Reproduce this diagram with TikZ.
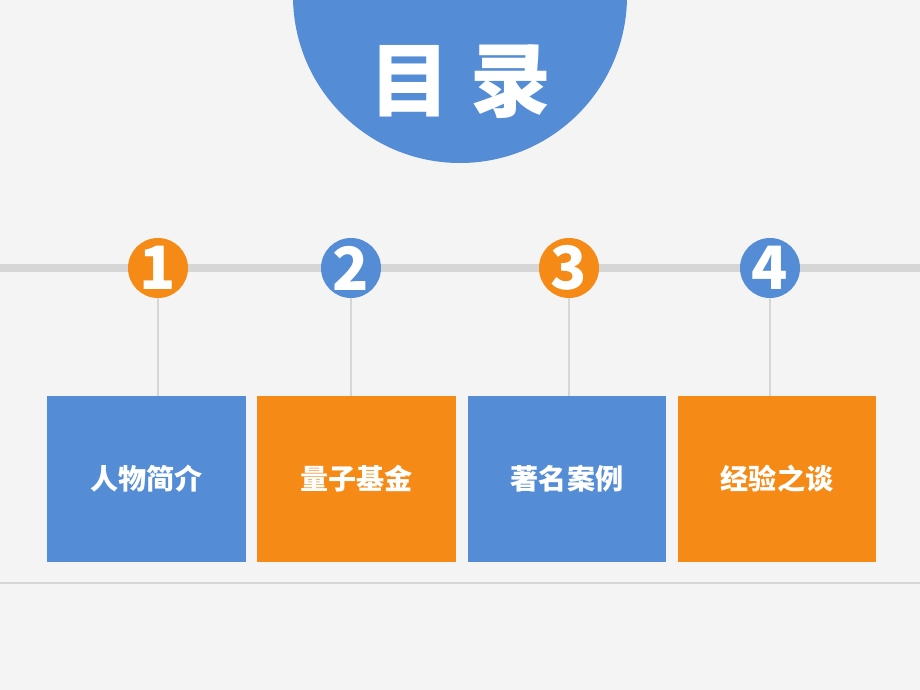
\documentclass[tikz,border=0pt]{standalone}
\usepackage{fontspec}
\newfontfamily\cjk{Noto Sans CJK SC}
\definecolor{bluec}{HTML}{548DD6}
\definecolor{orangec}{HTML}{F58A17}
\definecolor{bgc}{HTML}{F4F4F4}
\definecolor{linec}{HTML}{D6D6D6}
\tikzset{
  numdot/.style={circle, minimum size=1.2cm, inner sep=0pt, text=white, font=\cjk\bfseries\fontsize{34}{34}\selectfont},
  itembox/.style={minimum width=3.98cm, minimum height=3.32cm, inner sep=0pt, text=white, font=\cjk\bfseries\fontsize{16}{16}\selectfont}
}
\begin{document}
\begin{tikzpicture}[x=0.02cm, y=-0.02cm]
            \fill [bgc] (0, 0) rectangle (920, 690);
            \clip (0, 0) rectangle (920, 690);
            \fill [bluec] (460, -4) circle (167);
            \node [text=white, font=\cjk\bfseries\fontsize{46}{46}\selectfont] (title) at (460, 82) {目\hspace{0.25em}录};
            \draw [linec, line width=5pt] (0, 268) -- (920, 268);
            \draw [linec, line width=1pt] (0, 583) -- (920, 583);
            \foreach \i/\x/\c/\bx/\t in {1/158/orangec/146.5/人物简介, 2/351/bluec/356.5/量子基金, 3/569/orangec/567/著名案例, 4/770/bluec/777/经验之谈} {
              \ifodd\i \def\bc{bluec}\else \def\bc{orangec}\fi
              \node [itembox, fill=\bc] (box\i) at (\bx, 479) {\t};
              \coordinate (top\i) at (\x, 396);
              \node [numdot, fill=\c] (num\i) at (\x, 268) {\i};
              \draw [linec, line width=1.5pt] (num\i) -- (top\i);
            }
\end{tikzpicture}
\end{document}
